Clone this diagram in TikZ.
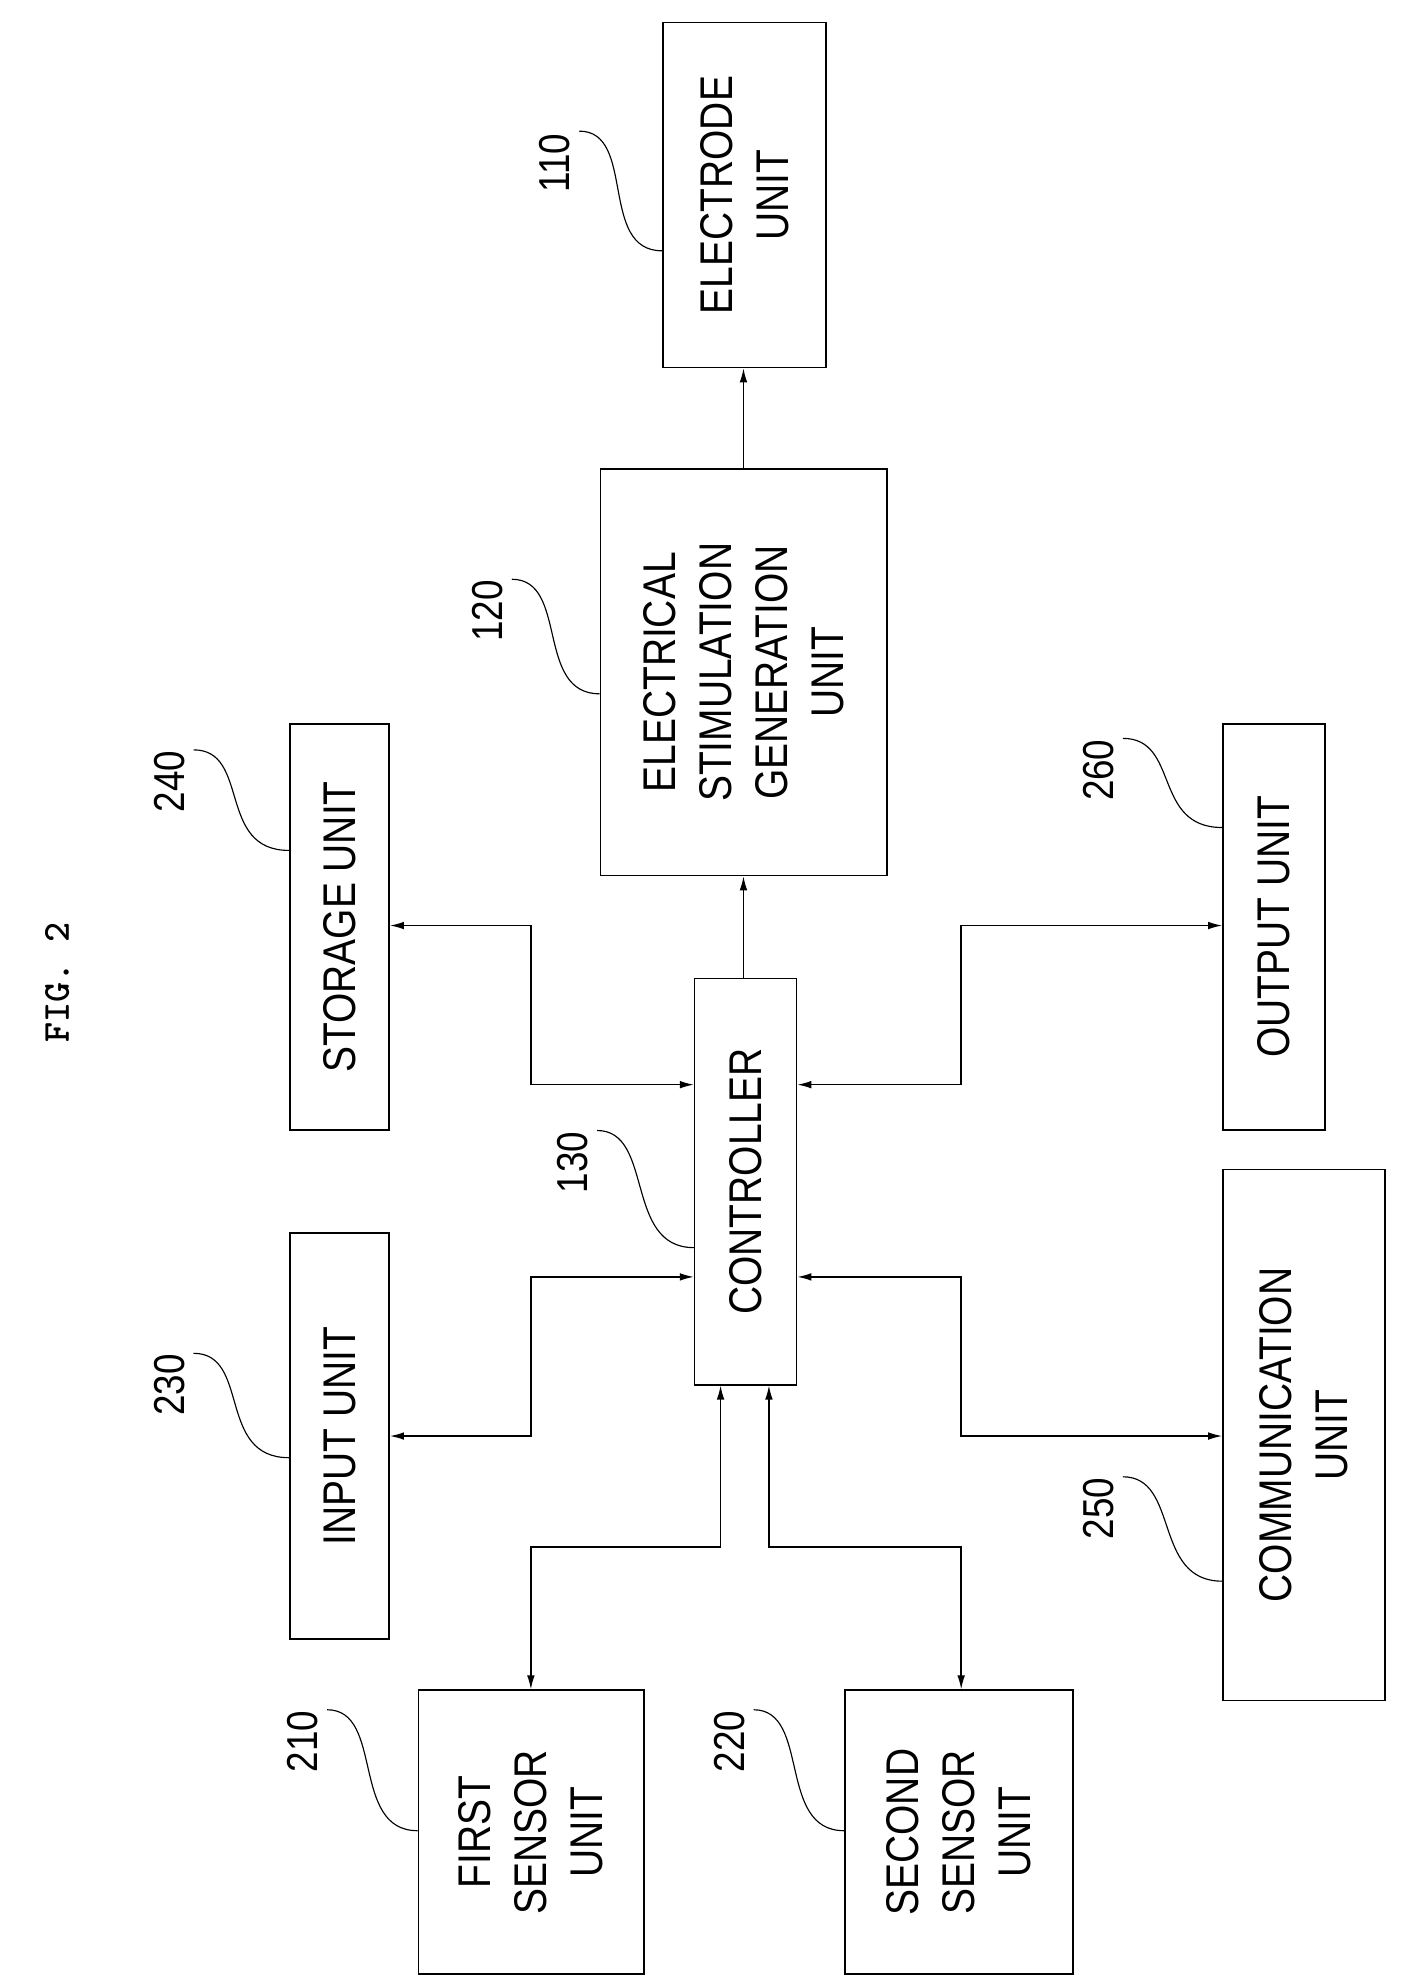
\documentclass[tikz,border=0pt]{standalone}
\usepackage{fontspec}
\setmainfont{Liberation Sans}
\usetikzlibrary{arrows.meta}
\begin{document}
\begin{tikzpicture}[x=1pt,y=-1pt,
 box/.style={draw,line width=1.3pt,inner sep=0pt,anchor=north west},
 txt/.style={rotate=90,align=center,font=\fontsize{36}{44}\selectfont,xscale=0.85},
 num/.style={rotate=90,font=\fontsize{34}{40}\selectfont,xscale=0.85},
 conn/.style={line width=1.1pt,{Latex[length=11pt,width=6pt]}-{Latex[length=11pt,width=6pt]}},
 one/.style={line width=1.1pt,-{Latex[length=11pt,width=6pt]}},
 lead/.style={line width=0.9pt}]
\useasboundingbox (0,0) rectangle (1100,1560);
\node[rotate=90,font=\ttfamily\bfseries\fontsize{30}{34}\selectfont] (fig) at (45,772) {FIG. 2};
% boxes
\node[box,minimum width=128pt,minimum height=271pt] (e) at (520,17) {};
\node[txt] at (e.center) {ELECTRODE\\UNIT};
\node[box,minimum width=225pt,minimum height=319pt] (g) at (471,368) {};
\node[txt] at (g.center) {ELECTRICAL\\STIMULATION\\GENERATION\\UNIT};
\node[box,minimum width=78pt,minimum height=319pt] (s) at (227,568) {};
\node[txt] at (s.center) {STORAGE UNIT};
\node[box,minimum width=80pt,minimum height=319pt] (o) at (960,568) {};
\node[txt] at (o.center) {OUTPUT UNIT};
\node[box,minimum width=80pt,minimum height=319pt] (c) at (545,768) {};
\node[txt] at (c.center) {CONTROLLER};
\node[box,minimum width=78pt,minimum height=319pt] (i) at (227,968) {};
\node[txt] at (i.center) {INPUT UNIT};
\node[box,minimum width=127pt,minimum height=417pt] (m) at (960,918) {};
\node[txt] at (m.center) {COMMUNICATION\\UNIT};
\node[box,minimum width=177pt,minimum height=223pt] (f) at (328,1327) {};
\node[txt] at (f.center) {FIRST\\SENSOR\\UNIT};
\node[box,minimum width=179pt,minimum height=223pt] (t) at (663,1327) {};
\node[txt] at (t.center) {SECOND\\SENSOR\\UNIT};
% connectors
\draw[one] (g.north -| 584,0) -- (e.south -| 584,0);
\draw[one] (c.north -| 584,0) -- (g.south -| 584,0);
\draw[conn] (s.east |- 0,727) -- (417,727) -- (417,852) -- (c.west |- 0,852);
\draw[conn] (c.east |- 0,852) -- (755,852) -- (755,727) -- (o.west |- 0,727);
\draw[conn] (i.east |- 0,1128) -- (417,1128) -- (417,1003) -- (c.west |- 0,1003);
\draw[conn] (c.east |- 0,1003) -- (755,1003) -- (755,1128) -- (m.west |- 0,1128);
\draw[conn] (c.south -| 566,0) -- (566,1215) -- (417,1215) -- (f.north -| 417,0);
\draw[conn] (c.south -| 604,0) -- (604,1215) -- (755,1215) -- (t.north -| 755,0);
% reference numbers
\node[num] (n110) at (436,128) {110};
\draw[lead] (455,103) .. controls (500,103) and (470,197) .. (e.west |- 0,197);
\node[num] (n120) at (383,480) {120};
\draw[lead] (402,455) .. controls (447,455) and (420,545) .. (g.west |- 0,545);
\node[num] (n240) at (133,614) {240};
\draw[lead] (152,589) .. controls (197,589) and (170,668) .. (s.west |- 0,668);
\node[num] (n260) at (863,605) {260};
\draw[lead] (882,580) .. controls (927,580) and (905,650) .. (o.west |- 0,650);
\node[num] (n130) at (450,913) {130};
\draw[lead] (469,888) .. controls (514,888) and (490,980) .. (c.west |- 0,980);
\node[num] (n230) at (133,1088) {230};
\draw[lead] (152,1063) .. controls (197,1063) and (170,1145) .. (i.west |- 0,1145);
\node[num] (n250) at (863,1185) {250};
\draw[lead] (882,1160) .. controls (927,1160) and (905,1242) .. (m.west |- 0,1242);
\node[num] (n210) at (238,1368) {210};
\draw[lead] (257,1343) .. controls (302,1343) and (275,1438) .. (f.west |- 0,1438);
\node[num] (n220) at (573,1368) {220};
\draw[lead] (592,1343) .. controls (637,1343) and (610,1438) .. (t.west |- 0,1438);
\end{tikzpicture}
\end{document}
